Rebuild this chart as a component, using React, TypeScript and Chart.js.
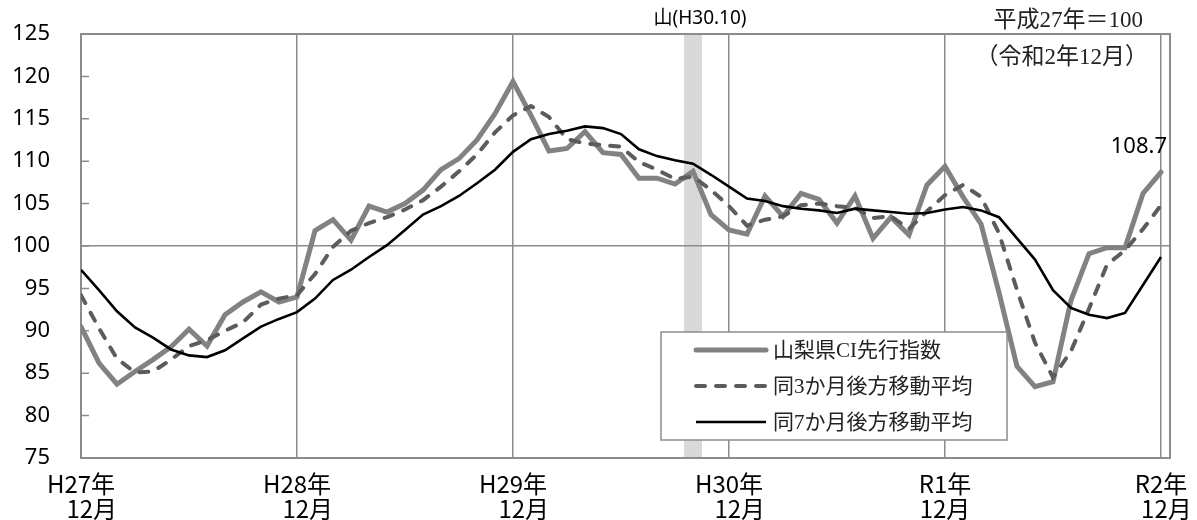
import React, { useEffect, useRef } from 'react';
import { Chart, registerables } from 'chart.js';

Chart.register(...registerables);

// ---- data ----
const months = [
  'H27.12',
  'H28.1', 'H28.2', 'H28.3', 'H28.4', 'H28.5', 'H28.6', 'H28.7', 'H28.8', 'H28.9', 'H28.10', 'H28.11', 'H28.12',
  'H29.1', 'H29.2', 'H29.3', 'H29.4', 'H29.5', 'H29.6', 'H29.7', 'H29.8', 'H29.9', 'H29.10', 'H29.11', 'H29.12',
  'H30.1', 'H30.2', 'H30.3', 'H30.4', 'H30.5', 'H30.6', 'H30.7', 'H30.8', 'H30.9', 'H30.10', 'H30.11', 'H30.12',
  'H31.1', 'H31.2', 'H31.3', 'H31.4', 'R1.5', 'R1.6', 'R1.7', 'R1.8', 'R1.9', 'R1.10', 'R1.11', 'R1.12',
  'R2.1', 'R2.2', 'R2.3', 'R2.4', 'R2.5', 'R2.6', 'R2.7', 'R2.8', 'R2.9', 'R2.10', 'R2.11', 'R2.12',
];

const ciIndex = [
  90.5,
  86.2, 83.7, 85.2, 86.6, 88.1, 90.2, 88.2, 91.9, 93.4, 94.6, 93.4, 94.0,
  101.8, 103.1, 100.7, 104.7, 104.0, 105.0, 106.6, 109.0, 110.3, 112.5, 115.6, 119.4,
  115.4, 111.2, 111.5, 113.5, 111.0, 110.8, 108.0, 108.0, 107.3, 108.8, 103.7, 101.9,
  101.4, 105.9, 103.5, 106.2, 105.5, 102.7, 105.9, 100.9, 103.4, 101.3, 107.2, 109.4,
  105.8, 102.6, 94.5, 85.8, 83.4, 84.0, 93.6, 99.1, 99.8, 99.8, 106.2, 108.7,
];

const ma3 = [
  94.2,
  90.3, 86.7, 85.1, 85.2, 86.6, 88.2, 88.9, 90.0, 91.0, 93.1, 93.8, 94.2,
  96.7, 99.9, 101.8, 102.7, 103.4, 104.3, 105.4, 107.0, 108.8, 110.8, 113.4, 115.4,
  116.5, 115.2, 112.6, 112.1, 111.9, 111.7, 109.9, 109.0, 107.9, 108.2, 106.6, 104.7,
  102.4, 103.1, 103.5, 104.8, 105.0, 104.7, 104.5, 103.3, 103.5, 102.0, 104.1, 106.0,
  107.2, 105.8, 101.5, 94.8, 88.6, 84.5, 87.6, 92.6, 97.8, 99.5, 102.0, 104.8,
];

const ma7 = [
  97.2,
  94.8, 92.3, 90.4, 89.2, 87.8, 87.1, 86.9, 87.7, 89.1, 90.5, 91.4, 92.2,
  93.8, 96.0, 97.2, 98.7, 100.1, 101.9, 103.7, 104.7, 105.9, 107.4, 109.0, 111.1,
  112.6, 113.2, 113.6, 114.1, 113.9, 113.2, 111.4, 110.6, 110.1, 109.7, 108.4, 107.0,
  105.6, 105.3, 104.7, 104.4, 104.2, 103.9, 104.4, 104.2, 104.0, 103.8, 103.9, 104.3,
  104.6, 104.2, 103.4, 100.9, 98.4, 94.8, 92.7, 91.9, 91.5, 92.1, 95.4, 98.7,
];

const seriesNames = ['山梨県CI先行指数', '同3か月後方移動平均', '同7か月後方移動平均'];

const yMin = 75;
const yMax = 125;
const yStep = 5;

const xTickPositions = [0, 12, 24, 36, 48, 60];
const xTickLabels = [
  ['H27年', '    12月'],
  ['H28年', '    12月'],
  ['H29年', '    12月'],
  ['H30年', '    12月'],
  ['R1年', '12月'],
  ['R2年', '  12月'],
];

const peakMonth = 'H30.10';
const peakLabel = '山(H30.10)';
const baseNote = ['平成27年＝100', '（令和2年12月）'];

// ---- styles ----
const GRID = '#8c8c8c';
const CI_COLOR = '#828282';
const MA3_COLOR = '#5c5c5c';
const MA7_COLOR = '#000000';

const toXY = (arr: number[]) => arr.map((v, i) => ({ x: i, y: v }));

const zeroPadding = (scale: any) => {
  scale.paddingTop = 0;
  scale.paddingBottom = 0;
  scale.paddingLeft = 0;
  scale.paddingRight = 0;
};

const peakBandPlugin = {
  id: 'peakBand',
  beforeDraw(chart: any) {
    const { ctx, chartArea, scales } = chart;
    const x = scales.x;
    const i = months.indexOf(peakMonth);
    const l = x.getPixelForValue(i - 0.5);
    const r = x.getPixelForValue(i + 0.5);
    ctx.save();
    ctx.fillStyle = '#d9d9d9';
    ctx.fillRect(l, chartArea.top, r - l, chartArea.bottom - chartArea.top);
    ctx.font = '19px "Noto Sans", "Noto Sans CJK JP"';
    ctx.fillStyle = '#000';
    ctx.textAlign = 'center';
    ctx.textBaseline = 'middle';
    ctx.fillText(peakLabel, (l + r) / 2 + 7, chartArea.top - 15);
    ctx.restore();
  },
};

const framePlugin = {
  id: 'frame',
  beforeDatasetsDraw(chart: any) {
    const { ctx, chartArea, scales } = chart;
    const y = scales.y;
    ctx.save();
    ctx.strokeStyle = GRID;
    ctx.lineWidth = 2;
    ctx.strokeRect(chartArea.left, chartArea.top, chartArea.right - chartArea.left, chartArea.bottom - chartArea.top);
    ctx.lineWidth = 1.5;
    ctx.beginPath();
    y.ticks.forEach((t: any) => {
      const py = y.getPixelForValue(t.value);
      ctx.moveTo(chartArea.left, py);
      ctx.lineTo(chartArea.left + 8, py);
    });
    ctx.stroke();
    ctx.restore();
  },
};

const annotationPlugin = {
  id: 'annotations',
  afterDatasetsDraw(chart: any) {
    const { ctx, chartArea, scales } = chart;
    const x = scales.x;
    const y = scales.y;
    ctx.save();

    // last value label
    const lastIdx = ciIndex.length - 1;
    const lastVal = ciIndex[lastIdx];
    ctx.font = '22px "Noto Sans"';
    ctx.fillStyle = '#000';
    ctx.textAlign = 'right';
    ctx.textBaseline = 'middle';
    ctx.fillText(lastVal.toFixed(1), x.getPixelForValue(lastIdx) + 6, y.getPixelForValue(lastVal) - 25);

    // base note
    ctx.font = '23px "Liberation Serif", "Noto Sans CJK JP"';
    ctx.fillStyle = '#222';
    ctx.fillText(baseNote[0], chartArea.right - 27, 21);
    ctx.fillText(baseNote[1], chartArea.right - 22, 58);

    // legend
    const bx = 661, by = 332, bw = 346, bh = 108;
    ctx.fillStyle = '#fff';
    ctx.fillRect(bx, by, bw, bh);
    ctx.strokeStyle = GRID;
    ctx.lineWidth = 1.5;
    ctx.strokeRect(bx, by, bw, bh);
    const ds = chart.data.datasets;
    ds.forEach((d: any, k: number) => {
      const ly = by + 18 + k * 36;
      ctx.save();
      ctx.strokeStyle = d.borderColor;
      ctx.lineWidth = d.borderWidth;
      ctx.lineCap = d.borderCapStyle || 'butt';
      ctx.setLineDash(d.borderDash || []);
      ctx.beginPath();
      ctx.moveTo(bx + 35, ly);
      ctx.lineTo(bx + 105, ly);
      ctx.stroke();
      ctx.restore();
      ctx.font = '21px "Liberation Serif", "Noto Sans CJK JP"';
      ctx.fillStyle = '#222';
      ctx.textAlign = 'left';
      ctx.textBaseline = 'middle';
      ctx.fillText(d.label, bx + 112, ly + 1);
    });
    ctx.restore();
  },
};

export default function App() {
  const canvasRef = useRef<HTMLCanvasElement | null>(null);

  useEffect(() => {
    if (!canvasRef.current) return;
    const chart = new Chart(canvasRef.current, {
      type: 'line',
      data: {
        datasets: [
          {
            label: seriesNames[0],
            data: toXY(ciIndex),
            borderColor: CI_COLOR,
            borderWidth: 5,
            pointRadius: 0,
            tension: 0,
            borderCapStyle: 'round',
            borderJoinStyle: 'miter',
            order: 3,
          },
          {
            label: seriesNames[1],
            data: toXY(ma3),
            borderColor: MA3_COLOR,
            borderWidth: 4,
            borderDash: [9, 11],
            borderCapStyle: 'round',
            pointRadius: 0,
            tension: 0,
            order: 2,
          },
          {
            label: seriesNames[2],
            data: toXY(ma7),
            borderColor: MA7_COLOR,
            borderWidth: 2.6,
            pointRadius: 0,
            tension: 0,
            order: 1,
          },
        ] as any,
      },
      options: {
        animation: false,
        responsive: true,
        maintainAspectRatio: false,
        events: [],
        layout: { padding: { left: 0, right: 27, top: 34, bottom: 0 } },
        plugins: {
          legend: { display: false },
          tooltip: { enabled: false },
          title: { display: false },
        },
        scales: {
          x: {
            type: 'linear',
            min: 0,
            max: 60.5,
            afterBuildTicks: (scale: any) => {
              scale.ticks = xTickPositions.map((v) => ({ value: v }));
            },
            afterFit: (scale: any) => {
              scale.height = 62;
              zeroPadding(scale);
            },
            ticks: {
              autoSkip: false,
              maxRotation: 0,
              minRotation: 0,
              padding: 13,
              color: '#000',
              font: { family: '"Noto Sans CJK JP"', size: 24, lineHeight: 1.05 },
              callback: (value: any) => {
                const k = xTickPositions.indexOf(Number(value));
                return k >= 0 ? xTickLabels[k] : '';
              },
            },
            grid: { color: GRID, lineWidth: 1.5, drawTicks: false },
            border: { display: false },
          },
          y: {
            min: yMin,
            max: yMax,
            afterFit: (scale: any) => {
              scale.width = 81;
              zeroPadding(scale);
            },
            ticks: {
              stepSize: yStep,
              padding: 31,
              color: '#000',
              font: { family: '"Noto Sans"', size: 22 },
            },
            grid: {
              color: (c: any) => (c.tick && c.tick.value === 100 ? GRID : 'rgba(0,0,0,0)'),
              lineWidth: 1.5,
              drawTicks: false,
            },
            border: { display: false },
          },
        },
      } as any,
      plugins: [peakBandPlugin, framePlugin, annotationPlugin],
    });
    return () => chart.destroy();
  }, []);

  return (
    <div style={{ position: 'absolute', left: 0, top: 0, width: 1197, height: 520, background: '#fff' }}>
      <canvas ref={canvasRef} />
    </div>
  );
}
